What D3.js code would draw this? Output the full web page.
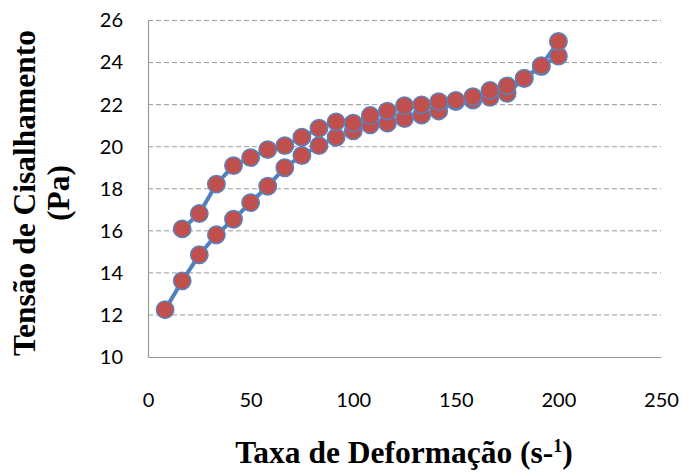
<!DOCTYPE html>
<html>
<head>
<meta charset="utf-8">
<script src="https://cdn.jsdelivr.net/npm/d3@7"></script>
<style>
  html, body { margin: 0; padding: 0; background: #fff; }
  svg { display: block; }
</style>
</head>
<body>
<svg id="chart" width="683" height="472"></svg>
<script>
// Shear rate (s^-1) and shear stress (Pa): up ramp then down ramp
const rateUp = [8.33, 16.67, 25, 33.33, 41.67, 50, 58.33, 66.67, 75, 83.33, 91.67, 100,
                108.33, 116.67, 125, 133.33, 141.67, 150, 158.33, 166.67, 175, 183.33, 191.67, 200];
const stressUp = [12.25, 13.62, 14.86, 15.81, 16.55, 17.34, 18.12, 19.0, 19.58, 20.05, 20.45, 20.75,
                  21.04, 21.12, 21.34, 21.5, 21.7, 22.15, 22.22, 22.35, 22.54, 23.25, 23.81, 24.31];
const rateDown = [200, 191.67, 183.33, 175, 166.67, 158.33, 150, 141.67, 133.33, 125, 116.67, 108.33,
                  100, 91.67, 83.33, 75, 66.67, 58.33, 50, 41.67, 33.33, 25, 16.67];
const stressDown = [25.0, 23.85, 23.25, 22.89, 22.67, 22.38, 22.2, 22.14, 21.99, 21.95, 21.69, 21.48,
                    21.12, 21.18, 20.88, 20.45, 20.05, 19.86, 19.48, 19.1, 18.22, 16.82, 16.09];
const xTicks = [0, 50, 100, 150, 200, 250];
const yTicks = [10, 12, 14, 16, 18, 20, 22, 24, 26];

const svg = d3.select("#chart");
const plotLeft = 148, plotRight = 661, plotTop = 20.5, plotBottom = 357;

const x = d3.scaleLinear().domain([0, 250]).range([plotLeft, plotRight]);
const y = d3.scaleLinear().domain([10, 26]).range([plotBottom, plotTop]);

// dashed horizontal gridlines
svg.append("g")
  .selectAll("line")
  .data(yTicks.filter(d => d > 10))
  .join("line")
  .attr("x1", plotLeft).attr("x2", plotRight)
  .attr("y1", d => y(d)).attr("y2", d => y(d))
  .attr("stroke", "#9a9a9a")
  .attr("stroke-width", 1)
  .attr("stroke-dasharray", "5,3");

// y axis
const yAxis = d3.axisLeft(y).tickValues(yTicks).tickSize(0).tickPadding(25).tickFormat(d3.format("d"));
const gy = svg.append("g").attr("transform", `translate(${plotLeft},0)`).call(yAxis);
gy.select(".domain").attr("stroke", "#9a9a9a").attr("stroke-width", 1.2);
gy.selectAll("text").attr("font-family", "Lato, 'Open Sans', sans-serif").attr("font-size", 20).attr("fill", "#000");

// x axis
const xAxis = d3.axisBottom(x).tickValues(xTicks).tickSize(0).tickPadding(36).tickFormat(d3.format("d"));
const gx = svg.append("g").attr("transform", `translate(0,${plotBottom})`).call(xAxis);
gx.select(".domain").attr("stroke", "#9a9a9a").attr("stroke-width", 1.2);
gx.selectAll("text").attr("font-family", "Lato, 'Open Sans', sans-serif").attr("font-size", 20).attr("fill", "#000");

// series
const line = d3.line().x(d => x(d[0])).y(d => y(d[1]));
const series = [
  d3.zip(rateUp, stressUp),
  d3.zip(rateDown, stressDown)
];
series.forEach(pts => {
  svg.append("path")
    .datum(pts)
    .attr("d", line)
    .attr("fill", "none")
    .attr("stroke", "#4F81BD")
    .attr("stroke-width", 4)
    .attr("stroke-linejoin", "round");
});
series.forEach(pts => {
  svg.append("g")
    .selectAll("circle")
    .data(pts)
    .join("circle")
    .attr("cx", d => x(d[0]))
    .attr("cy", d => y(d[1]))
    .attr("r", 8.7)
    .attr("fill", "#C0504D")
    .attr("stroke", "#5a82bd")
    .attr("stroke-width", 1.5);
});

// axis titles
const titleFont = "'Liberation Serif', 'Times New Roman', serif";
const titleSize = 31.5;
const yt = svg.append("text")
  .attr("transform", "translate(24,193) rotate(-90)")
  .attr("text-anchor", "middle")
  .attr("font-family", titleFont)
  .attr("font-weight", "bold")
  .attr("font-size", titleSize)
  .attr("fill", "#000");
yt.append("tspan").attr("x", 0).attr("dy", "0.35em").text("Tensão de Cisalhamento");
yt.append("tspan").attr("x", 0).attr("dy", "1.08em").text("(Pa)");

const xt = svg.append("text")
  .attr("x", 404).attr("y", 463)
  .attr("text-anchor", "middle")
  .attr("font-family", titleFont)
  .attr("font-weight", "bold")
  .attr("font-size", titleSize)
  .attr("fill", "#000");
xt.append("tspan").text("Taxa de Deformação (s-");
xt.append("tspan").attr("font-size", 18).attr("dy", -11).text("1");
xt.append("tspan").attr("dy", 11).text(")");
</script>
</body>
</html>
